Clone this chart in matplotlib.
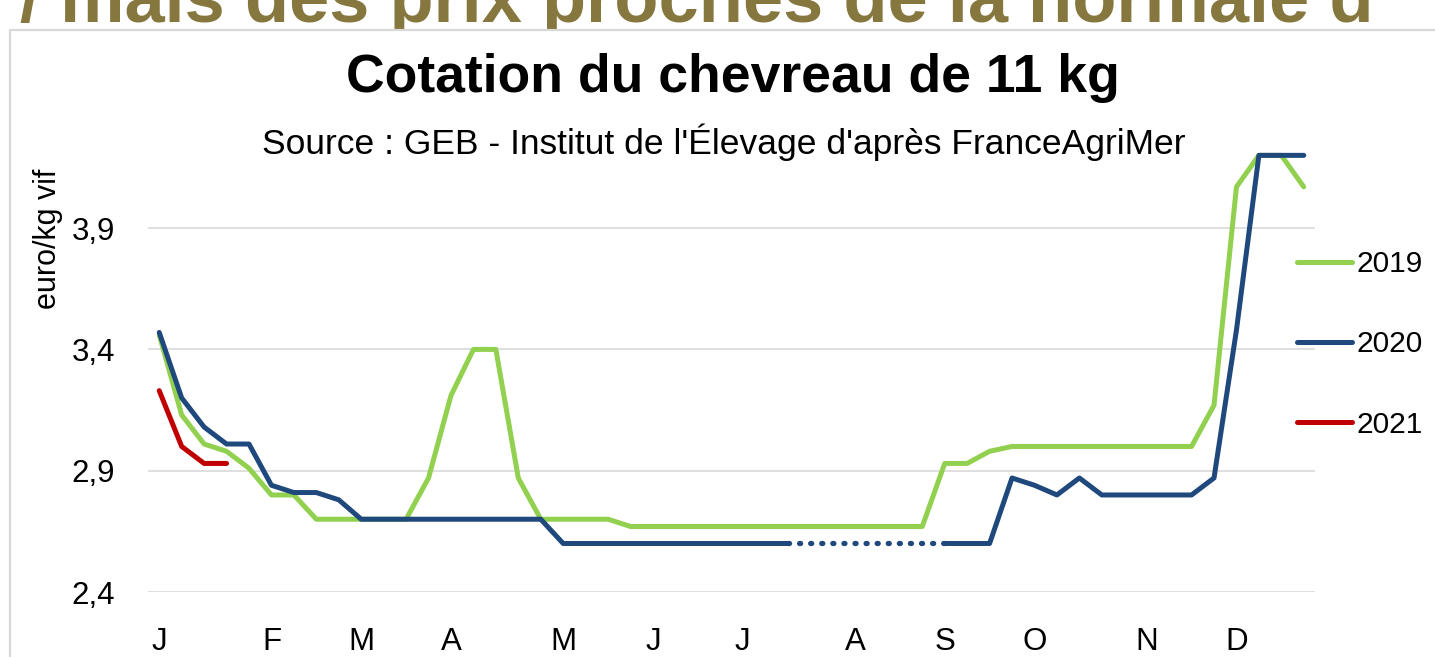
"""Cotation du chevreau de 11 kg : 2019, 2020, 2021 (euro/kg vif, par semaine)."""

import matplotlib

matplotlib.use("Agg")
import matplotlib.pyplot as plt
import numpy as np
from matplotlib.patches import Rectangle

FONT = ["Liberation Sans", "DejaVu Sans"]

weeks = list(range(1, 53))
month_labels = ["J", "F", "M", "A", "M", "J", "J", "A", "S", "O", "N", "D"]
month_weeks = [1, 6, 10, 14, 19, 23, 27, 32, 36, 40, 45, 49]
y_ticks = [2.4, 2.9, 3.4, 3.9]
y_tick_labels = ["2,4", "2,9", "3,4", "3,9"]

cot_2019 = [3.46, 3.13, 3.01, 2.98, 2.91, 2.80, 2.80, 2.70, 2.70, 2.70,
            2.70, 2.70, 2.87, 3.21, 3.40, 3.40, 2.87, 2.70, 2.70, 2.70,
            2.70, 2.67, 2.67, 2.67, 2.67, 2.67, 2.67, 2.67, 2.67, 2.67,
            2.67, 2.67, 2.67, 2.67, 2.67, 2.93, 2.93, 2.98, 3.00, 3.00,
            3.00, 3.00, 3.00, 3.00, 3.00, 3.00, 3.00, 3.17, 4.07, 4.20,
            4.20, 4.07]
cot_2020 = [3.47, 3.20, 3.08, 3.01, 3.01, 2.84, 2.81, 2.81, 2.78, 2.70,
            2.70, 2.70, 2.70, 2.70, 2.70, 2.70, 2.70, 2.70, 2.60, 2.60,
            2.60, 2.60, 2.60, 2.60, 2.60, 2.60, 2.60, 2.60, 2.60, None,
            None, None, None, None, None, 2.60, 2.60, 2.60, 2.87, 2.84,
            2.80, 2.87, 2.80, 2.80, 2.80, 2.80, 2.80, 2.87, 3.48, 4.20,
            4.20, 4.20]
cot_2021 = [3.23, 3.00, 2.93, 2.93]

series = [
    ("2019", cot_2019, "#92d050"),
    ("2020", cot_2020, "#1f497d"),
    ("2021", cot_2021, "#c00000"),
]

fig = plt.figure(figsize=(14.35, 6.57), dpi=100)

# bandeau de titre de la diapositive, coupé en haut de l'image
fig.text(20 / 1435, 1 - 22 / 657, "/ mais des prix proches de la normale d",
         family=FONT, weight="bold", fontsize=52, color="#86773f",
         ha="left", va="baseline", zorder=0)

# cadre du graphique
fig.add_artist(Rectangle((10 / 1435, -0.1), 1.1, 1 - 30 / 657 + 0.1,
                         transform=fig.transFigure, facecolor="white",
                         edgecolor="#d9d9d9", linewidth=1.6, zorder=1))

ax = fig.add_axes([0.10314, 0.09893, 0.81324, 0.672], zorder=2)
ax.patch.set_alpha(0)

for name, values, color in series:
    y = np.array([np.nan if v is None else v for v in values], dtype=float)
    x = np.array(weeks[: len(y)])
    ax.plot(x, y, color=color, lw=3.6, solid_capstyle="round",
            solid_joinstyle="round", label=name, clip_on=False, zorder=3)
    # semaines sans cotation : liaison en pointillé
    idx = np.flatnonzero(~np.isnan(y))
    for a, b in zip(idx[:-1], idx[1:]):
        if b - a > 1:
            ax.plot([x[a], x[b]], [y[a], y[b]], color=color, lw=3.8,
                    linestyle=(0, (0.2, 1.9)), dash_capstyle="round",
                    zorder=3)

ax.set_xlim(0.5, 52.5)
ax.set_ylim(2.4, 4.22)
ax.set_yticks(y_ticks)
ax.set_yticklabels(y_tick_labels)
ax.set_xticks(month_weeks)
ax.set_xticklabels(month_labels)
ax.grid(axis="y", color="#d9d9d9", lw=1.2)
ax.set_axisbelow(True)
for s in ax.spines.values():
    s.set_visible(False)
ax.tick_params(axis="both", length=0, labelsize=22.5, colors="black")
ax.tick_params(axis="y", pad=24)
ax.tick_params(axis="x", pad=25)
for lab in ax.get_xticklabels() + ax.get_yticklabels():
    lab.set_family(FONT)

fig.text(48 / 1435, 1 - 239 / 657, "euro/kg vif", rotation=90, family=FONT,
         fontsize=22, ha="center", va="center", zorder=3)

fig.text(733 / 1435, 1 - 92 / 657, "Cotation du chevreau de 11 kg",
         family=FONT, weight="bold", fontsize=38.5, ha="center",
         va="baseline", zorder=3)
fig.text(724 / 1435, 1 - 154 / 657,
         "Source : GEB - Institut de l'Élevage d'après FranceAgriMer",
         family=FONT, fontsize=25.5, ha="center", va="baseline", zorder=3)

leg = fig.legend(loc="upper left", bbox_to_anchor=(1297 / 1435, 1 - 250 / 657),
                 frameon=False, prop={"family": FONT, "size": 21.5},
                 handlelength=1.85, handletextpad=0.14, labelspacing=1.75,
                 borderpad=0, borderaxespad=0)
leg.set_zorder(3)

fig.savefig("out.png", dpi=100)
